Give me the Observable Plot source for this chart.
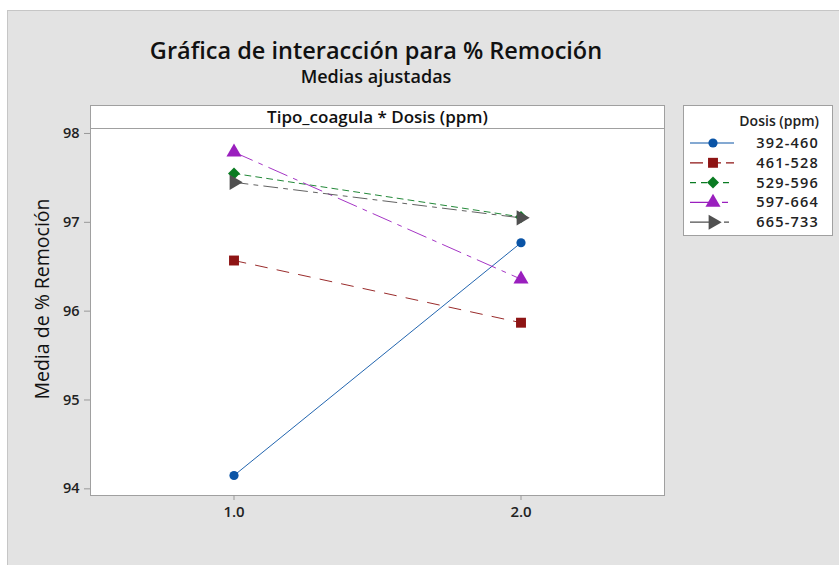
<!DOCTYPE html>
<html>
<head>
<meta charset="utf-8">
<script src="https://cdn.jsdelivr.net/npm/d3@7"></script>
<script src="https://cdn.jsdelivr.net/npm/@observablehq/plot@0.6"></script>
<style>
  html, body { margin: 0; padding: 0; background: #ffffff; }
  #wrap { position: relative; width: 839px; height: 565px; overflow: hidden; font-family: "Open Sans", "Noto Sans", sans-serif; color: #111; }
  #panel { position: absolute; left: 7px; top: 10px; width: 840px; height: 560px; background: #e3e3e3; border-left: 1px solid #c6c6c6; border-top: 1px solid #c6c6c6; }
  #chart { position: absolute; left: 0; top: 0; }
  .title { position: absolute; left: 0; width: 752px; text-align: center; white-space: nowrap; }
  #t1 { top: 36px; height: 28px; line-height: 28px; font-size: 23.5px; font-weight: 600; }
  #t2 { top: 65px; height: 22px; line-height: 22px; font-size: 18px; font-weight: 600; }
  #strip { position: absolute; left: 90px; top: 105px; width: 573px; height: 22px; background: #fff; border: 1px solid #a0a0a0; border-bottom: none; box-sizing: content-box; text-align: center; font-size: 17px; font-weight: 600; line-height: 21px; }
  #ylab { position: absolute; left: 41px; top: 299px; transform: translate(-50%, -50%) rotate(-90deg); font-size: 19.5px; font-weight: 500; white-space: nowrap; }
  #legend { position: absolute; left: 683px; top: 105px; width: 148px; height: 129px; background: #fff; border: 1px solid #a0a0a0; }
</style>
</head>
<body>
<div id="wrap">
  <div id="panel"></div>
  <div id="chart"></div>
  <div class="title" id="t1">Gráfica de interacción para % Remoción</div>
  <div class="title" id="t2">Medias ajustadas</div>
  <div id="strip">Tipo_coagula * Dosis (ppm)</div>
  <div id="ylab">Media de % Remoción</div>
  <div id="legend"></div>
</div>
<script>
// ---- data ----
const tipos = [1.0, 2.0];
const dosis = ["392-460", "461-528", "529-596", "597-664", "665-733"];
const medias = [
  [94.15, 96.77],
  [96.57, 95.87],
  [97.55, 97.06],
  [97.79, 96.36],
  [97.45, 97.05]
];
const yTicks = [94, 95, 96, 97, 98];
const legendTitle = "Dosis (ppm)";

// ---- styles ----
const colores = ["#0a54a6", "#8e1414", "#0a7b22", "#9a1fbe", "#505050"];
const dashes = [null, "12,10", "6,5", "20,7,4,7", "14,6,4,6"];
const legendDashes = [null, "13,5", "6,5", "26,6,6,6", "28,6,5,6"];
const rightTriangle = {
  draw(context, size) {
    const y = -Math.sqrt(size / (Math.sqrt(3) * 3));
    const s3 = Math.sqrt(3);
    context.moveTo(-2 * y, 0);
    context.lineTo(y, s3 * y);
    context.lineTo(y, -s3 * y);
    context.closePath();
  }
};
const symbols = ["circle", "square", "diamond2", "triangle", rightTriangle];
const radii = [4.6, 5.6, 5.4, 5.6, 5.6];

const data = [];
dosis.forEach((d, i) => tipos.forEach((t, j) => data.push({dosis: d, tipo: t, media: medias[i][j], k: i})));

const marks = [
  Plot.frame({fill: "white", stroke: "#a0a0a0"}),
  Plot.axisX({ticks: tipos, tickFormat: d3.format(".1f"), tickSize: 5, tickPadding: 6, label: null, fontSize: 15, fontWeight: 600, stroke: "#999", color: "#222"}),
  Plot.axisY({ticks: yTicks, tickFormat: d3.format("d"), tickSize: 6, tickPadding: 5, label: null, fontSize: 14.5, fontWeight: 600, stroke: "#999", color: "#222"})
];
dosis.forEach((d, i) => {
  const sub = data.filter(r => r.k === i);
  marks.push(Plot.line(sub, {x: "tipo", y: "media", stroke: colores[i], strokeWidth: 1, strokeOpacity: 0.9, strokeDasharray: dashes[i]}));
});
dosis.forEach((d, i) => {
  const sub = data.filter(r => r.k === i);
  marks.push(Plot.dot(sub, {x: "tipo", y: "media", fill: colores[i], stroke: "none", symbol: symbols[i], r: radii[i]}));
});

const chart = Plot.plot({
  width: 839,
  height: 565,
  marginLeft: 90,
  marginRight: 175,
  marginTop: 128,
  marginBottom: 70,
  style: {background: "transparent", fontFamily: "'Open Sans', 'Noto Sans', sans-serif"},
  x: {domain: [0.5, 2.5]},
  y: {domain: [93.925, 98.056]},
  marks
});
document.getElementById("chart").appendChild(chart);

// ---- legend ----
const leg = d3.select("#legend").append("svg").attr("width", 148).attr("height", 129)
  .style("font-family", "'Open Sans', 'Noto Sans', sans-serif");
leg.append("text").attr("x", 135).attr("y", 20).attr("text-anchor", "end")
  .attr("font-size", 14).attr("font-weight", 600).attr("fill", "#222").text(legendTitle);
dosis.forEach((d, i) => {
  const cy = 37 + i * 19.8;
  const g = leg.append("g");
  g.append("line").attr("x1", 6).attr("x2", 50).attr("y1", cy).attr("y2", cy)
    .attr("stroke", colores[i]).attr("stroke-width", 1.2)
    .attr("stroke-dasharray", legendDashes[i]);
  const sym = typeof symbols[i] === "string"
    ? ({circle: d3.symbolCircle, square: d3.symbolSquare, diamond2: d3.symbolDiamond2, triangle: d3.symbolTriangle})[symbols[i]]
    : symbols[i];
  g.append("path").attr("transform", `translate(29,${cy})`)
    .attr("d", d3.symbol(sym, Math.PI * radii[i] * radii[i])())
    .attr("fill", colores[i]);
  g.append("text").attr("x", 135).attr("y", cy + 5).attr("text-anchor", "end")
    .attr("font-size", 14.5).attr("font-weight", 600).attr("letter-spacing", "1.2px").attr("fill", "#222").text(d);
});
</script>
</body>
</html>
